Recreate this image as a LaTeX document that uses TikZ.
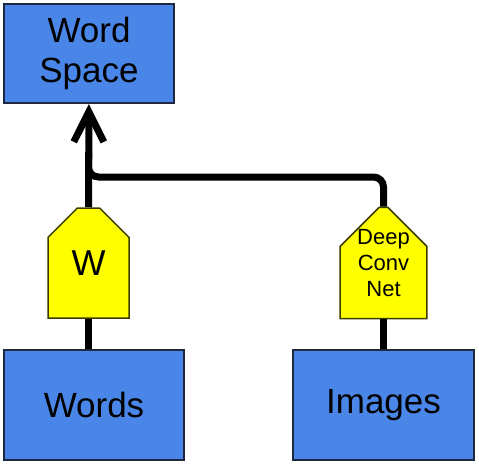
\documentclass[tikz,border=0pt]{standalone}
\usepackage{fontspec}
\setmainfont{Liberation Sans}
\usetikzlibrary{shapes.misc, arrows.meta, positioning}
\definecolor{boxblue}{RGB}{74,134,232}
\definecolor{boxedge}{RGB}{30,40,64}
\definecolor{netyellow}{RGB}{255,255,0}
\definecolor{netedge}{RGB}{60,60,0}

\begin{document}
\begin{tikzpicture}[x=1pt, y=-1pt]
    \tikzstyle{space} = [rectangle, draw=boxedge, line width=2pt, fill=boxblue, align=center, inner sep=0pt, font=\fontsize{35}{40}\selectfont]
    \tikzstyle{net} = [chamfered rectangle, chamfered rectangle corners={north west, north east}, chamfered rectangle xsep=17pt, chamfered rectangle ysep=22pt, draw=netedge, line width=1.5pt, fill=netyellow, align=center, inner sep=0pt, minimum width=81pt, minimum height=110pt]
    \tikzstyle{wire} = [draw, line width=7pt]
    \tikzstyle{line} = [wire, -{Straight Barb[length=30pt, width=30pt]}]

    \useasboundingbox (0,0) rectangle (479,464);

    \node [space, minimum width=170pt, minimum height=99pt] (wordspace) at (89,53.5) {Word\\Space};
    \node [net, font=\fontsize{36}{40}\selectfont] (w) at (88.5,263) {W};
    \node [net, font=\fontsize{22}{26}\selectfont] (dcn) at (383.5,263) {Deep\\Conv\\Net};
    \node [space, minimum width=180pt, minimum height=110pt] (words) at (94,405) {Words};
    \node [space, minimum width=181pt, minimum height=110pt] (images) at (383.5,405) {Images};

    \coordinate (join) at (w.north |- 0,177);

    \path [line] (w) -- (wordspace);
    \path [wire] (words.north -| w.south) -- (w.south);
    \path [wire] (images) -- (dcn);
    \path [wire, rounded corners=10pt] (dcn.north) |- (join) -- ++(0,-25);
\end{tikzpicture}
\end{document}
